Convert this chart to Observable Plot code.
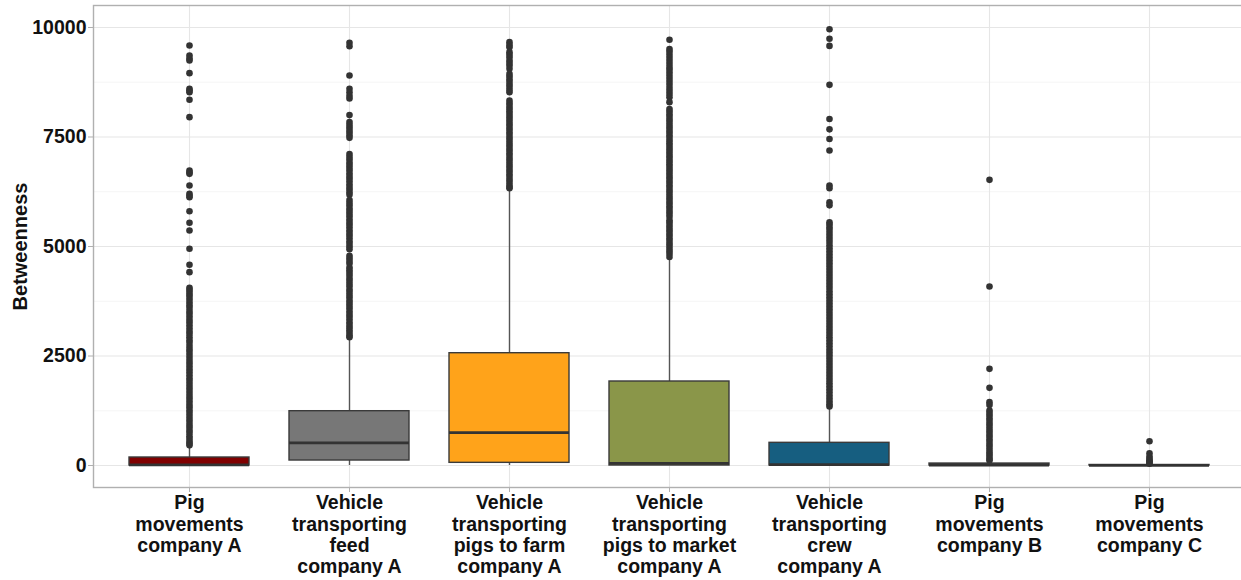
<!DOCTYPE html>
<html>
<head>
<meta charset="utf-8">
<script src="https://cdn.jsdelivr.net/npm/d3@7"></script>
<script src="https://cdn.jsdelivr.net/npm/@observablehq/plot@0.6"></script>
<style>
  html, body { margin: 0; padding: 0; background: #fff; }
  #chart { width: 1241px; height: 580px; overflow: hidden; }
</style>
</head>
<body>
<div id="chart"></div>
<script>
// ---- Data ----
const categories = ["PigA", "Feed", "Farm", "Market", "Crew", "PigB", "PigC"];
const tickLabels = [
  "Pig\nmovements\ncompany A",
  "Vehicle\ntransporting\nfeed\ncompany A",
  "Vehicle\ntransporting\npigs to farm\ncompany A",
  "Vehicle\ntransporting\npigs to market\ncompany A",
  "Vehicle\ntransporting\ncrew\ncompany A",
  "Pig\nmovements\ncompany B",
  "Pig\nmovements\ncompany C"
];
const boxFill = ["#800000", "#777777", "#FFA31A", "#8A9649", "#165E80", "#3d3d3d", "#3d3d3d"];
const whiskerLow = [0, 0, 0, 0, 0, 0, 0];
const q1 = [0, 114, 61, 0, 0, 0, 0];
const median = [15, 518, 753, 50, 20, 10, 2];
const q3 = [183, 1240, 2564, 1918, 518, 45, 12];
const whiskerHigh = [440, 2880, 6290, 4720, 1300, 95, 28];

const outPigA = [9589, 9361, 9290, 9247, 8957, 8600, 8560, 8524, 8349, 7953, 6735, 6690, 6659, 6393, 6203, 6160, 6126, 5806, 5541, 5365, 4947, 4582, 4414,
  4057, 4010, 3960, 3905, 3850, 3790, 3720, 3660, 3600, 3530, 3470, 3400, 3330, 3270, 3200, 3130, 3060, 3000, 2930, 2860, 2800, 2730, 2660, 2600,
  2530, 2460, 2390, 2330, 2260, 2190, 2130, 2060, 1990, 1930, 1860, 1790, 1730, 1660, 1590, 1530, 1460, 1390, 1330, 1260, 1200, 1130, 1060, 1000,
  930, 870, 800, 740, 670, 610, 550, 500, 460];
const outFeed = [9650, 9570, 8904, 8600, 8520, 8440, 8380, 8000, 7840, 7780, 7720, 7660, 7600, 7540, 7480,
  7110, 7050, 6990, 6920, 6860, 6800, 6740, 6670, 6610, 6550, 6490, 6420, 6360, 6300, 6240, 6180, 6060, 6000, 5940, 5870, 5810, 5750, 5690, 5620,
  5560, 5500, 5440, 5370, 5310, 5250, 5190, 5120, 5060, 5000, 4940, 4790, 4730, 4670, 4610, 4520, 4460, 4400, 4340, 4270, 4210, 4150, 4090, 4020,
  3960, 3900, 3840, 3770, 3710, 3650, 3590, 3520, 3460, 3400, 3340, 3270, 3210, 3150, 3090, 3030, 2970, 2930];
const outFarm = [9665, 9600, 9551, 9437, 9380, 9322, 9247, 9190, 9132, 9056, 8940, 8880, 8820, 8760, 8700, 8640, 8580, 8524,
  8330, 8270, 8210, 8150, 8090, 8030, 7970, 7910, 7850, 7790, 7730, 7670, 7610, 7550, 7490, 7430, 7370, 7310, 7250, 7190, 7130, 7070,
  7010, 6950, 6890, 6830, 6770, 6710, 6650, 6590, 6530, 6470, 6410, 6360, 6330];
const outMarket = [9719, 9510, 9450, 9380, 9310, 9240, 9170, 9100, 9040, 8970, 8900, 8830, 8760, 8690, 8620, 8550, 8480, 8410, 8295,
  8140, 8080, 8020, 7960, 7900, 7840, 7780, 7720, 7660, 7600, 7540, 7480, 7420, 7360, 7300, 7240, 7180, 7120, 7060, 7000, 6940, 6880,
  6820, 6760, 6700, 6640, 6580, 6520, 6460, 6400, 6340, 6280, 6220, 6160, 6100, 6040, 5980, 5920, 5860, 5800, 5740, 5680, 5600,
  5555, 5490, 5430, 5370, 5310, 5250, 5190, 5130, 5070, 5010, 4950, 4890, 4830, 4760];
const outCrew = [9960, 9742, 9580, 8690, 7910, 7675, 7455, 7190, 6393, 6330, 6010, 5940, 5555, 5500, 5440, 5380,
  5310, 5240, 5170, 5100, 5030, 4960, 4890, 4820, 4750, 4680, 4610, 4540, 4470, 4400, 4330, 4260, 4190, 4120, 4050, 3980, 3910,
  3840, 3770, 3700, 3630, 3560, 3490, 3420, 3350, 3280, 3210, 3140, 3070, 3000, 2930, 2860, 2790, 2720, 2650, 2580, 2510, 2440,
  2370, 2300, 2230, 2160, 2090, 2020, 1950, 1880, 1810, 1740, 1670, 1600, 1530, 1460, 1400, 1350];
const outPigB = [6522, 4087, 2207, 1773, 1446, 1380, 1256, 1200, 1140, 1080, 1020, 960, 900, 840, 780, 720, 660, 600,
  540, 480, 420, 360, 300, 250, 200, 150, 115];
const outPigC = [555, 281, 205, 153, 120, 90, 60, 42];

const outlierLists = [outPigA, outFeed, outFarm, outMarket, outCrew, outPigB, outPigC];
const yTicks = [0, 2500, 5000, 7500, 10000];
const yMinor = [1250, 3750, 6250, 8750];

// ---- Build tables ----
const boxes = categories.map((c, i) => ({
  cat: c, lo: whiskerLow[i], q1: q1[i], med: median[i], q3: q3[i], hi: whiskerHigh[i], fill: boxFill[i]
}));
const outliers = categories.flatMap((c, i) => outlierLists[i].map(v => ({cat: c, v})));
const labelOf = new Map(categories.map((c, i) => [c, tickLabels[i]]));

const FS = 19.5;
const chart = Plot.plot({
  width: 1241,
  height: 580,
  marginLeft: 93,
  marginRight: -4,
  marginTop: 5,
  marginBottom: 93,
  style: {fontFamily: "'Liberation Sans', Arial, Helvetica, sans-serif", fontSize: FS + "px", fontWeight: "bold", color: "#111", background: "#fff"},
  x: {domain: categories, type: "band", paddingInner: 0.25, paddingOuter: 0.225, label: null},
  y: {domain: [-502, 10502], label: null},
  color: {type: "identity"},
  marks: [
    Plot.gridY(yMinor, {stroke: "#f1f1f1", strokeOpacity: 1, strokeWidth: 0.7}),
    Plot.gridY(yTicks, {stroke: "#e6e6e6", strokeOpacity: 1, strokeWidth: 1.1}),
    Plot.gridX({stroke: "#e6e6e6", strokeOpacity: 1, strokeWidth: 1.1}),
    Plot.frame({stroke: "#b0b0b0", strokeWidth: 1.4}),
    Plot.axisY(yTicks, {tickSize: 5, tickPadding: 2, stroke: "#b0b0b0", fill: "#111", fontSize: FS, fontWeight: "bold",
      tickFormat: d => String(d), label: null}),
    Plot.axisX({tickSize: 5, tickPadding: 2, stroke: "#b0b0b0", fill: "#111", fontSize: FS, fontWeight: "bold",
      lineHeight: 1.08, tickFormat: d => labelOf.get(d), label: null}),
    Plot.ruleX(boxes, {x: "cat", y1: "q3", y2: "hi", stroke: "#555", strokeWidth: 1.4}),
    Plot.ruleX(boxes, {x: "cat", y1: "lo", y2: "q1", stroke: "#555", strokeWidth: 1.4}),
    Plot.dot(outliers, {x: "cat", y: "v", r: 3.3, fill: "#333", stroke: "none"}),
    Plot.barY(boxes, {x: "cat", y1: "q1", y2: "q3", fill: "fill", stroke: "#3a3a3a", strokeWidth: 1.4}),
    Plot.tickY(boxes, {x: "cat", y: "med", stroke: "#333", strokeWidth: 2.8}),
    Plot.text(["Betweenness"], {frameAnchor: "left", dx: -73, rotate: -90, textAnchor: "middle", lineAnchor: "middle",
      fontSize: 20, fontWeight: "bold", fill: "#111"})
  ]
});
document.getElementById("chart").appendChild(chart);
</script>
</body>
</html>
